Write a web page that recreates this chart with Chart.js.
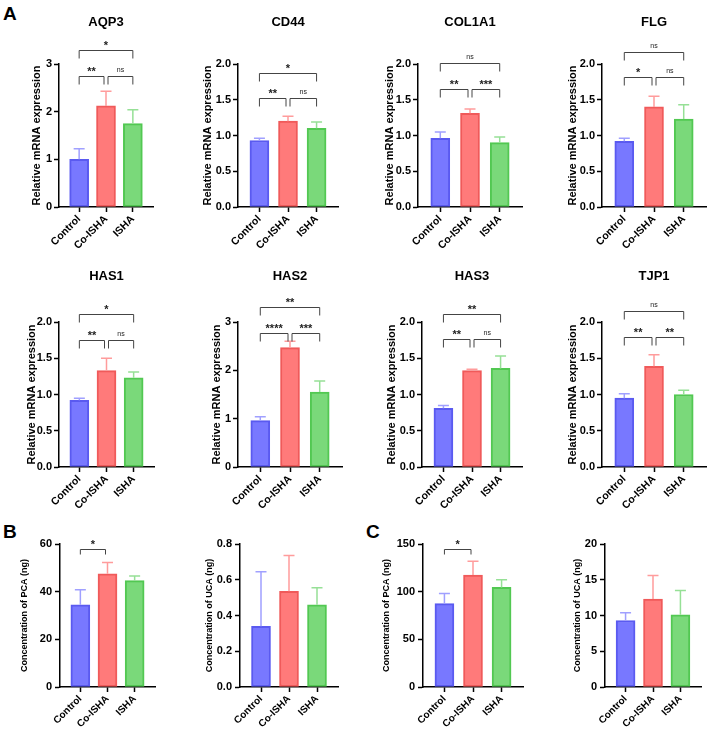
<!DOCTYPE html>
<html>
<head>
<title>Relative mRNA expression panels</title>
<script src="https://cdn.jsdelivr.net/npm/chart.js@4.4.0/dist/chart.umd.min.js"></script>
<style>
html, body { margin: 0; padding: 0; overflow: hidden; background: #fff; }
#page { position: relative; width: 709px; height: 732px; }
#page canvas { position: absolute; }
.letter { position: absolute; font: bold 19px 'Liberation Sans', Arial, sans-serif; line-height: 19px; color: #000; }
</style>
</head>
<body>
<div id="page">
    <div class="letter" style="left:3px;top:4px">A</div>
    <div class="letter" style="left:3px;top:522px">B</div>
    <div class="letter" style="left:366px;top:522px">C</div>
</div>

<script>
// ---- data ----
const groups = ['Control', 'Co-ISHA', 'ISHA'];
const mrnaTitle = 'Relative mRNA expression';

const aqp3 = [1.00, 2.12, 1.75];     const aqp3Sd = [0.22, 0.31, 0.29];
const cd44 = [0.93, 1.20, 1.10];     const cd44Sd = [0.03, 0.07, 0.09];
const col1a1 = [0.96, 1.31, 0.90];   const col1a1Sd = [0.09, 0.06, 0.08];
const flg = [0.92, 1.40, 1.23];      const flgSd = [0.04, 0.15, 0.20];
const has1 = [0.92, 1.33, 1.23];     const has1Sd = [0.03, 0.17, 0.08];
const has2 = [0.96, 2.47, 1.55];     const has2Sd = [0.08, 0.13, 0.23];
const has3 = [0.81, 1.33, 1.36];     const has3Sd = [0.04, 0.02, 0.17];
const tjp1 = [0.95, 1.39, 1.00];     const tjp1Sd = [0.06, 0.16, 0.06];
const pcaB = [34.5, 47.5, 44.6];     const pcaBSd = [6.3, 4.7, 2.0];
const ucaB = [0.34, 0.535, 0.46];    const ucaBSd = [0.305, 0.2, 0.095];
const pcaC = [87.5, 117.5, 104.5];   const pcaCSd = [10.5, 14.5, 8.0];
const ucaC = [9.3, 12.3, 10.1];      const ucaCSd = [1.1, 3.3, 3.4];

// significance brackets: [from, to, level, label]
const aqp3Sig = [[0, 1, 2.75, '**'], [1, 2, 2.75, 'ns'], [0, 2, 3.29, '*']];
const cd44Sig = [[0, 1, 1.52, '**'], [1, 2, 1.52, 'ns'], [0, 2, 1.87, '*']];
const col1a1Sig = [[0, 1, 1.65, '**'], [1, 2, 1.65, '***'], [0, 2, 2.01, 'ns']];
const flgSig = [[0, 1, 1.82, '*'], [1, 2, 1.82, 'ns'], [0, 2, 2.17, 'ns']];
const has1Sig = [[0, 1, 1.75, '**'], [1, 2, 1.75, 'ns'], [0, 2, 2.11, '*']];
const has2Sig = [[0, 1, 2.77, '****'], [1, 2, 2.77, '***'], [0, 2, 3.31, '**']];
const has3Sig = [[0, 1, 1.77, '**'], [1, 2, 1.77, 'ns'], [0, 2, 2.11, '**']];
const tjp1Sig = [[0, 1, 1.79, '**'], [1, 2, 1.79, '**'], [0, 2, 2.15, 'ns']];
const pcaBSig = [[0, 1, 58, '*']];
const pcaCSig = [[0, 1, 145, '*']];

// ---- styling ----
const fills = ['#7878ff', '#ff7a7a', '#7ad97a'];
const borders = ['#5a5af0', '#f05a5a', '#52c852'];
const errColors = ['#a0a0ff', '#ff9c9c', '#96e096'];
const FONT = "'Liberation Sans', Arial, sans-serif";

const rows = [
    { top: 0,   h: 252, plotTop: 64,  plotBottom: 207, titleY: 22,  yFont: 11, xFont: 10.5, drop: 8, tickPad: 2 },
    { top: 252, h: 268, plotTop: 322, plotBottom: 467, titleY: 276, yFont: 11, xFont: 10.5, drop: 8, tickPad: 2 },
    { top: 520, h: 212, plotTop: 544, plotBottom: 687, titleY: null, yFont: 9, xFont: 10, drop: 5, tickPad: 3 }
];

const panels = [
    { row: 0, axisX: 59,  w: 94,  off: 22, title: 'AQP3',   mean: aqp3,   sd: aqp3Sd,   max: 3,   step: 1,   dec: 0, yTitle: mrnaTitle, sig: aqp3Sig },
    { row: 0, axisX: 238, w: 100, off: 30, title: 'CD44',   mean: cd44,   sd: cd44Sd,   max: 2,   step: 0.5, dec: 1, yTitle: mrnaTitle, sig: cd44Sig },
    { row: 0, axisX: 418, w: 104, off: 28, title: 'COL1A1', mean: col1a1, sd: col1a1Sd, max: 2,   step: 0.5, dec: 1, yTitle: mrnaTitle, sig: col1a1Sig },
    { row: 0, axisX: 602, w: 104, off: 29, title: 'FLG',    mean: flg,    sd: flgSd,    max: 2,   step: 0.5, dec: 1, yTitle: mrnaTitle, sig: flgSig },
    { row: 1, axisX: 59,  w: 95,  off: 27, title: 'HAS1',   mean: has1,   sd: has1Sd,   max: 2,   step: 0.5, dec: 1, yTitle: mrnaTitle, sig: has1Sig },
    { row: 1, axisX: 238, w: 104, off: 21, title: 'HAS2',   mean: has2,   sd: has2Sd,   max: 3,   step: 1,   dec: 0, yTitle: mrnaTitle, sig: has2Sig },
    { row: 1, axisX: 422, w: 100, off: 30, title: 'HAS3',   mean: has3,   sd: has3Sd,   max: 2,   step: 0.5, dec: 1, yTitle: mrnaTitle, sig: has3Sig },
    { row: 1, axisX: 602, w: 104, off: 29, title: 'TJP1',   mean: tjp1,   sd: tjp1Sd,   max: 2,   step: 0.5, dec: 1, yTitle: mrnaTitle, sig: tjp1Sig },
    { row: 2, axisX: 60,  w: 95,  off: 35, title: null, mean: pcaB, sd: pcaBSd, max: 60,  step: 20,  dec: 0, yTitle: 'Concentration of PCA (ng)', sig: pcaBSig },
    { row: 2, axisX: 240, w: 98,  off: 30, title: null, mean: ucaB, sd: ucaBSd, max: 0.8, step: 0.2, dec: 1, yTitle: 'Concentration of UCA (ng)', sig: [] },
    { row: 2, axisX: 423, w: 100, off: 36, title: null, mean: pcaC, sd: pcaCSd, max: 150, step: 50,  dec: 0, yTitle: 'Concentration of PCA (ng)', sig: pcaCSig },
    { row: 2, axisX: 605, w: 96,  off: 27, title: null, mean: ucaC, sd: ucaCSd, max: 20,  step: 5,   dec: 0, yTitle: 'Concentration of UCA (ng)', sig: [] }
];

// error bars, titles and brackets
function extras(p, row) {
    return {
        id: 'extras',
        afterDatasetsDraw(chart) {
            const ctx = chart.ctx, ys = chart.scales.y;
            const meta = chart.getDatasetMeta(0);
            ctx.save();
            ctx.lineWidth = 1.5;
            meta.data.forEach((bar, i) => {
                const top = ys.getPixelForValue(p.mean[i] + p.sd[i]);
                ctx.strokeStyle = errColors[i];
                ctx.beginPath();
                ctx.moveTo(bar.x, bar.y);
                ctx.lineTo(bar.x, top);
                ctx.moveTo(bar.x - 5.5, top);
                ctx.lineTo(bar.x + 5.5, top);
                ctx.stroke();
            });
            ctx.restore();
        },
        afterDraw(chart) {
            const ctx = chart.ctx, xs = chart.scales.x, ys = chart.scales.y;
            const area = chart.chartArea;
            ctx.save();
            if (p.title) {
                ctx.fillStyle = '#000';
                ctx.font = 'bold 13px ' + FONT;
                ctx.textAlign = 'center';
                ctx.textBaseline = 'middle';
                ctx.fillText(p.title, (area.left + area.right) / 2, row.titleY - row.top);
            }
            ctx.strokeStyle = '#444';
            ctx.lineWidth = 1;
            p.sig.forEach(([a, b, level, label]) => {
                let x1 = xs.getPixelForValue(a), x2 = xs.getPixelForValue(b);
                if (a === 1) x1 += 2;
                if (b === 1) x2 -= 2;
                const y = Math.round(ys.getPixelForValue(level)) + 0.5;
                ctx.beginPath();
                ctx.moveTo(x1, y + row.drop);
                ctx.lineTo(x1, y);
                ctx.lineTo(x2, y);
                ctx.lineTo(x2, y + row.drop);
                ctx.stroke();
                ctx.fillStyle = '#222';
                ctx.textAlign = 'center';
                ctx.textBaseline = 'alphabetic';
                if (label === 'ns') {
                    ctx.font = '7px ' + FONT;
                    ctx.fillText(label, (x1 + x2) / 2, y - 5);
                } else {
                    ctx.font = 'bold 11px ' + FONT;
                    ctx.fillText(label, (x1 + x2) / 2, y - 1.5);
                }
            });
            ctx.restore();
        }
    };
}

function makePanel(p) {
    const row = rows[p.row];
    const cv = document.createElement('canvas');
    const left = p.axisX - 62;
    cv.width = 62 + p.w + 10;
    cv.height = row.h;
    cv.style.left = left + 'px';
    cv.style.top = row.top + 'px';
    document.getElementById('page').appendChild(cv);

    const padL = 62 - p.off - row.yFont * 0.6;
    const axisLine = { color: '#000', width: 1.5 };
    const gridOpts = { drawOnChartArea: false, drawTicks: true, tickLength: 5, tickColor: '#000', tickWidth: 1.5, offset: false };

    new Chart(cv, {
        type: 'bar',
        data: {
            datasets: [{
                data: p.mean.map((v, i) => ({ x: i, y: v })),
                backgroundColor: fills,
                borderColor: borders,
                borderWidth: 2,
                borderSkipped: false,
                barThickness: 19
            }]
        },
        options: {
            responsive: false,
            animation: false,
            layout: { padding: { top: row.plotTop - row.top, left: padL, right: 10, bottom: 0 } },
            plugins: { legend: { display: false }, tooltip: { enabled: false } },
            scales: {
                x: {
                    type: 'linear', min: -0.75, max: 2.75, offset: false,
                    afterBuildTicks: s => { s.ticks = [0, 1, 2].map(v => ({ value: v })); },
                    ticks: {
                        callback: v => groups[v],
                        minRotation: 45, maxRotation: 45, autoSkip: false,
                        color: '#000', padding: 1,
                        font: { family: FONT, size: row.xFont, weight: 'bold' }
                    },
                    grid: gridOpts,
                    border: axisLine,
                    afterFit: s => { s.height = row.top + row.h - row.plotBottom; }
                },
                y: {
                    min: 0, max: p.max,
                    ticks: {
                        stepSize: p.step,
                        callback: v => v.toFixed(p.dec),
                        color: '#000', padding: row.tickPad,
                        font: { family: FONT, size: 11, weight: 'bold' }
                    },
                    grid: gridOpts,
                    border: axisLine,
                    title: {
                        display: true, text: p.yTitle, color: '#000', padding: 0,
                        font: { family: FONT, size: row.yFont, weight: 'bold', lineHeight: 1.2 }
                    },
                    afterFit: s => { s.width = 62 - padL; }
                }
            }
        },
        plugins: [extras(p, row)]
    });
}

panels.forEach(makePanel);
</script>
</body>
</html>
